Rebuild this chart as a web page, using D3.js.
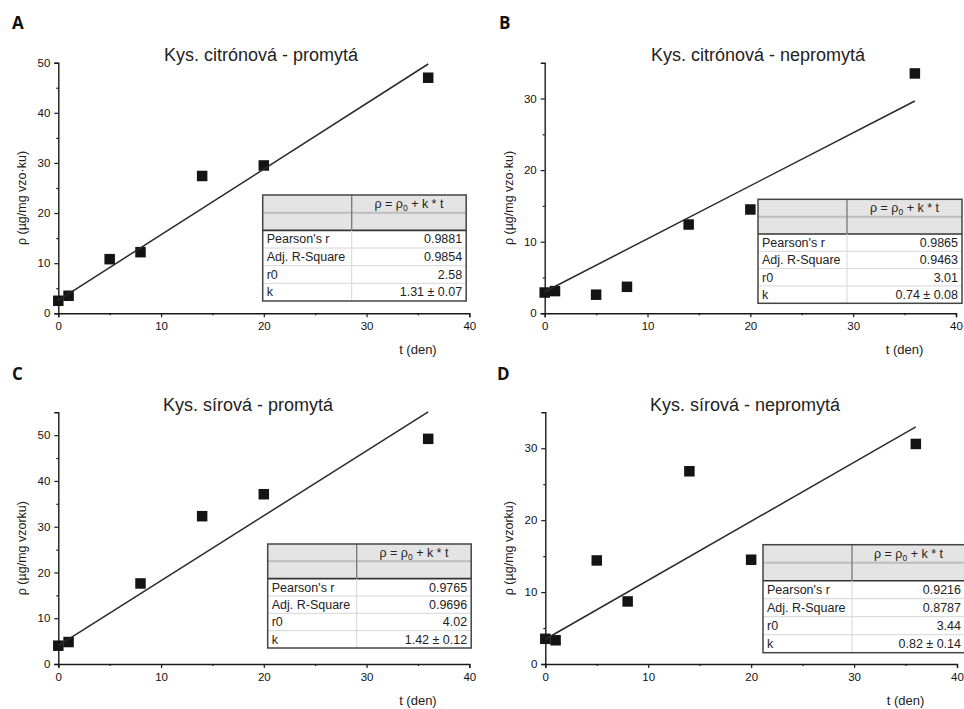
<!DOCTYPE html>
<html>
<head>
<meta charset="utf-8">
<script src="https://cdn.jsdelivr.net/npm/d3@7"></script>
<style>
  body { margin: 0; background: #fff; }
  svg { display: block; font-family: "Liberation Sans", Arial, sans-serif; }
</style>
</head>
<body>
<svg id="chart" width="964" height="709"></svg>
<script>
// days of sampling
const daysA = [0, 1, 5, 8, 14, 20, 36];
const daysB = [0, 1, 5, 8, 14, 20, 36];
const daysC = [0, 1, 8, 14, 20, 36];
const daysD = [0, 1, 5, 8, 14, 20, 36];

// measured concentration (ug/mg)
const valuesA = [2.5, 3.5, 10.8, 12.2, 27.4, 29.5, 47.0];
const valuesB = [2.9, 3.1, 2.6, 3.7, 12.4, 14.5, 33.5];
const valuesC = [4.0, 4.8, 17.6, 32.3, 37.1, 49.2];
const valuesD = [3.5, 3.3, 14.4, 8.7, 26.8, 14.5, 30.6];

// fitted line end points [t, rho]
const fitA = [[0, 2.58], [36, 49.74]];
const fitB = [[0, 3.01], [36, 29.65]];
const fitC = [[0, 4.02], [36, 55.1]];
const fitD = [[0, 3.44], [36, 32.96]];

const titles = [
  "Kys. citrónová - promytá",
  "Kys. citrónová - nepromytá",
  "Kys. sírová - promytá",
  "Kys. sírová - nepromytá"
];
const yLabels = [
  "ρ (µg/mg vzo·ku)",
  "ρ (µg/mg vzo·ku)",
  "ρ (µg/mg vzorku)",
  "ρ (µg/mg vzorku)"
];
const letters = ["A", "B", "C", "D"];

const statLabels = ["Pearson's r", "Adj. R-Square", "r0", "k"];
const statsA = ["0.9881", "0.9854", "2.58", "1.31 ± 0.07"];
const statsB = ["0.9865", "0.9463", "3.01", "0.74 ± 0.08"];
const statsC = ["0.9765", "0.9696", "4.02", "1.42 ± 0.12"];
const statsD = ["0.9216", "0.8787", "3.44", "0.82 ± 0.14"];

const xTicks = [0, 10, 20, 30, 40];
const xMinor = [5, 15, 25, 35];
const yMaxA = 50, yMaxB = 35, yMaxC = 55, yMaxD = 35;

const svg = d3.select("#chart");

const panels = [
  { days: daysA, values: valuesA, fit: fitA, stats: statsA, yMax: yMaxA,
    x0: 58.3, x1: 469.3, y0: 313.3, y1: 62.7, table: [262.7, 195, 203.5, 106],
    letterPos: [12, 29], titleX: 261, titleY: 61 },
  { days: daysB, values: valuesB, fit: fitB, stats: statsB, yMax: yMaxB,
    x0: 544.7, x1: 956, y0: 313.3, y1: 62.7, table: [758, 199.3, 204, 104],
    letterPos: [499, 29], titleX: 758, titleY: 61 },
  { days: daysC, values: valuesC, fit: fitC, stats: statsC, yMax: yMaxC,
    x0: 58.3, x1: 469.3, y0: 664, y1: 412.3, table: [267.7, 544, 203.5, 104],
    letterPos: [12, 380], titleX: 248, titleY: 411 },
  { days: daysD, values: valuesD, fit: fitD, stats: statsD, yMax: yMaxD,
    x0: 545.3, x1: 957, y0: 664, y1: 412.3, table: [763, 544.7, 202, 108],
    letterPos: [497, 380], titleX: 745, titleY: 411 }
];

panels.forEach((p, i) => drawPanel(p, i));

function drawPanel(p, i) {
  const g = svg.append("g");
  const x = d3.scaleLinear().domain([0, 40]).range([p.x0, p.x1]);
  const y = d3.scaleLinear().domain([0, p.yMax]).range([p.y0, p.y1]);

  const yTicks = d3.range(0, p.yMax + 0.1, 10);
  const yMinor = d3.range(5, p.yMax - 0.1, 10);

  // panel letter
  g.append("text")
    .attr("x", p.letterPos[0]).attr("y", p.letterPos[1])
    .attr("font-family", "'Open Sans', sans-serif")
    .attr("font-weight", "bold").attr("font-size", 17)
    .attr("fill", "#111")
    .text(letters[i]);

  // title
  g.append("text")
    .attr("x", p.titleX).attr("y", p.titleY)
    .attr("text-anchor", "middle").attr("font-size", 18)
    .attr("fill", "#222")
    .text(titles[i]);

  // x axis
  g.append("g")
    .attr("transform", `translate(0,${p.y0})`)
    .call(d3.axisBottom(x).tickValues(xTicks).tickSize(4).tickPadding(5));
  g.append("g")
    .attr("transform", `translate(0,${p.y0})`)
    .call(d3.axisBottom(x).tickValues(xMinor).tickSize(2).tickFormat(""))
    .call(a => a.select(".domain").remove());

  // y axis
  g.append("g")
    .attr("transform", `translate(${p.x0},0)`)
    .call(d3.axisLeft(y).tickValues(yTicks).tickSize(4).tickPadding(4));
  g.append("g")
    .attr("transform", `translate(${p.x0},0)`)
    .call(d3.axisLeft(y).tickValues(yMinor).tickSize(2).tickFormat(""))
    .call(a => a.select(".domain").remove());

  g.selectAll(".domain").attr("stroke", "#1a1a1a").attr("stroke-width", 1.4);
  g.selectAll(".tick line").attr("stroke", "#1a1a1a").attr("stroke-width", 1.2);
  g.selectAll(".tick text").attr("font-size", 11.5).attr("fill", "#111")
    .attr("font-family", "'Liberation Sans', Arial, sans-serif");

  // axis titles
  g.append("text")
    .attr("transform", `translate(${p.x0 - 32},${(p.y0 + p.y1) / 2 + 10}) rotate(-90)`)
    .attr("text-anchor", "middle").attr("font-size", 12.5).attr("fill", "#222")
    .text(yLabels[i]);
  g.append("text")
    .attr("x", x(35)).attr("y", p.y0 + 41)
    .attr("text-anchor", "middle").attr("font-size", 13).attr("fill", "#222")
    .text("t (den)");

  // data squares
  const pts = p.days.map((d, j) => [d, p.values[j]]);
  const s = 10.5;
  g.append("g").selectAll("rect")
    .data(pts)
    .join("rect")
    .attr("x", d => x(d[0]) - s / 2)
    .attr("y", d => y(d[1]) - s / 2)
    .attr("width", s).attr("height", s)
    .attr("fill", "#141414");

  // fit line
  const line = d3.line().x(d => x(d[0])).y(d => y(d[1]));
  g.append("path")
    .attr("d", line(p.fit))
    .attr("fill", "none").attr("stroke", "#2a2a2a").attr("stroke-width", 1.5);

  drawTable(g, p.table, p.stats);
}

function drawTable(g, box, stats) {
  const [tx, ty, tw, th] = box;
  const colW = 89;
  const rowH = th / 6;
  const t = g.append("g");

  // gray header rows
  t.append("rect")
    .attr("x", tx).attr("y", ty).attr("width", tw).attr("height", rowH * 2)
    .attr("fill", "#e4e4e4");
  t.append("rect")
    .attr("x", tx).attr("y", ty + rowH * 2).attr("width", tw).attr("height", rowH * 4)
    .attr("fill", "#fff");

  // row separators
  [1, 3, 4, 5].forEach(r => {
    t.append("line")
      .attr("x1", tx).attr("x2", tx + tw)
      .attr("y1", ty + rowH * r).attr("y2", ty + rowH * r)
      .attr("stroke", r === 1 ? "#bdbdbd" : "#d6d6d6").attr("stroke-width", r === 1 ? 2 : 1);
  });
  t.append("line")
    .attr("x1", tx).attr("x2", tx + tw)
    .attr("y1", ty + rowH * 2).attr("y2", ty + rowH * 2)
    .attr("stroke", "#333").attr("stroke-width", 1.6);

  // column divider
  t.append("line")
    .attr("x1", tx + colW).attr("x2", tx + colW)
    .attr("y1", ty).attr("y2", ty + rowH * 2)
    .attr("stroke", "#777").attr("stroke-width", 1.3);
  t.append("line")
    .attr("x1", tx + colW).attr("x2", tx + colW)
    .attr("y1", ty + rowH * 2).attr("y2", ty + th)
    .attr("stroke", "#d6d6d6").attr("stroke-width", 1);

  // outer border
  t.append("rect")
    .attr("x", tx).attr("y", ty).attr("width", tw).attr("height", th)
    .attr("fill", "none").attr("stroke", "#444").attr("stroke-width", 1.5);

  // equation header
  const eq = t.append("text")
    .attr("x", tx + colW + (tw - colW) / 2).attr("y", ty + rowH * 0.5 + 4)
    .attr("text-anchor", "middle").attr("font-size", 12.5).attr("fill", "#222");
  eq.append("tspan").text("ρ = ρ");
  eq.append("tspan").attr("font-size", 8.5).attr("dy", 3).text("0");
  eq.append("tspan").attr("dy", -3).text(" + k * t");

  // stat rows
  statLabels.forEach((lab, r) => {
    const cy = ty + rowH * (2 + r) + rowH / 2 + 4.3;
    t.append("text")
      .attr("x", tx + 4).attr("y", cy)
      .attr("font-size", 12.5).attr("fill", "#222")
      .text(lab);
    t.append("text")
      .attr("x", tx + tw - 4).attr("y", cy)
      .attr("text-anchor", "end").attr("font-size", 12.5).attr("fill", "#222")
      .text(stats[r]);
  });
}
</script>
</body>
</html>
